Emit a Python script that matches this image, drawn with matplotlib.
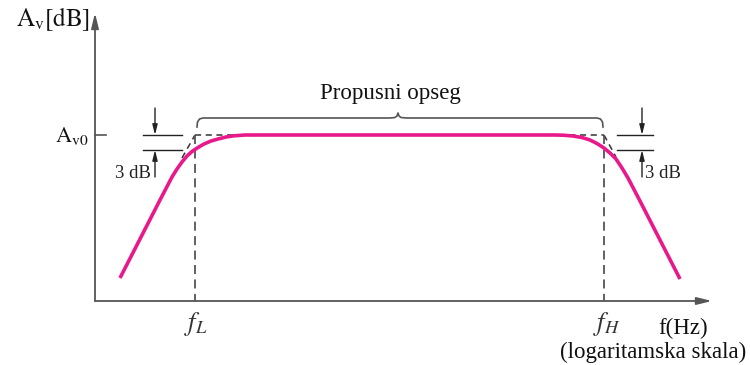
import numpy as np
import matplotlib.pyplot as plt

plt.rcParams['font.family'] = ['Liberation Serif', 'DejaVu Serif']
plt.rcParams['mathtext.fontset'] = 'stix'

# krivulja pojacanja (x, y u pikselima slike, y raste nadole)
lijevo_x = [120, 140, 160, 172, 177, 182, 187, 192, 198, 204, 211, 218, 226, 234, 245]
lijevo_y = [278, 239, 200, 177, 169, 162, 156, 151.5, 147.5, 144, 141, 139, 137, 135.8, 135]
desno_x = [555, 563, 573, 582, 590, 597, 604, 610, 616, 622, 628, 640, 660, 680]
desno_y = [135, 135.2, 136, 137.5, 140, 143.5, 148, 153, 159, 168, 178, 201, 240, 279]

y_av0 = 135      # A_v0
y_3db = 150      # A_v0 - 3 dB
f_L = 195
f_H = 604
y_osa = 301
x_osa = 95

siva = '#555555'
roza = '#e8198b'

fig = plt.figure(figsize=(7.5, 3.65), dpi=100)
ax = fig.add_axes([0, 0, 1, 1])
ax.set_xlim(0, 750)
ax.set_ylim(365, 0)
ax.axis('off')

# ose
ax.annotate('', xy=(x_osa, 13), xytext=(x_osa, y_osa),
            arrowprops=dict(arrowstyle='-|>,head_length=0.9,head_width=0.22',
                            color=siva, lw=1.3, shrinkA=0, shrinkB=0))
ax.annotate('', xy=(712, y_osa), xytext=(x_osa, y_osa),
            arrowprops=dict(arrowstyle='-|>,head_length=0.9,head_width=0.22',
                            color=siva, lw=1.3, shrinkA=0, shrinkB=0))
ax.plot([x_osa, 106], [y_av0, y_av0], color=siva, lw=1.2)

# asimptote i granicne frekvencije (isprekidano)
ax.plot([f_L, f_H], [y_av0, y_av0], '--', color='#333333', lw=1.1, dashes=(4, 3))
ax.plot([182, f_L], [158, y_av0], '--', color='#333333', lw=1.1, dashes=(4, 3))
ax.plot([f_H, 616], [y_av0, 157], '--', color='#333333', lw=1.1, dashes=(4, 3))
ax.plot([f_L, f_L], [y_av0, y_osa], '--', color=siva, lw=1.3, dashes=(5, 3))
ax.plot([f_H, f_H], [y_av0, y_osa], '--', color=siva, lw=1.3, dashes=(5, 3))

# krivulja
ax.plot(lijevo_x + desno_x, lijevo_y + desno_y, color=roza, lw=2.6,
        solid_joinstyle='round', solid_capstyle='butt')

# oznake 3 dB
for x0, x1, xs in [(143, 182, 155), (617, 653, 642)]:
    ax.plot([x0, x1], [y_av0, y_av0], color='#222222', lw=1)
    ax.plot([x0, x1], [y_3db, y_3db], color='#222222', lw=1)
    ax.annotate('', xy=(xs, y_av0), xytext=(xs, 108),
                arrowprops=dict(arrowstyle='-|>,head_length=0.6,head_width=0.15',
                                color='#222222', lw=1, shrinkA=0, shrinkB=0))
    ax.annotate('', xy=(xs, y_3db), xytext=(xs, 177),
                arrowprops=dict(arrowstyle='-|>,head_length=0.6,head_width=0.15',
                                color='#222222', lw=1, shrinkA=0, shrinkB=0))
ax.text(151, 173, '3 dB', fontsize=13.5, ha='right', va='center', color='#222222')
ax.text(645, 173, '3 dB', fontsize=13.5, ha='left', va='center', color='#222222')

# viticasta zagrada
zag_x = [197, 197.5, 199.5, 203, 390, 395, 397, 398, 399, 401, 406, 597, 600.5, 602.5, 603]
zag_y = [127, 122, 119, 118, 118, 117.5, 116, 113, 116, 117.5, 118, 118, 119, 122, 127]
ax.plot(zag_x, zag_y, color=siva, lw=1.2)
ax.text(390, 94, 'Propusni opseg', fontsize=16.5, ha='center', va='center', color='#111111')

# tekstovi
ax.text(16, 19, r'$\mathrm{A_v[dB]}$', fontsize=18, ha='left', va='center', color='#111111')
ax.text(55, 136, r'$\mathrm{A_{v0}}$', fontsize=16, ha='left', va='center', color='#111111')
ax.text(f_L + 1, 324, r'$f_L$', fontsize=19, ha='center', va='center', color='#333333')
ax.text(f_H + 3, 324, r'$f_H$', fontsize=19, ha='center', va='center', color='#333333')
ax.text(683, 328, 'f(Hz)', fontsize=16.5, ha='center', va='center', color='#111111')
ax.text(653, 352, '(logaritamska skala)', fontsize=16.5, ha='center', va='center', color='#111111')

fig.savefig('out.png', dpi=100)
